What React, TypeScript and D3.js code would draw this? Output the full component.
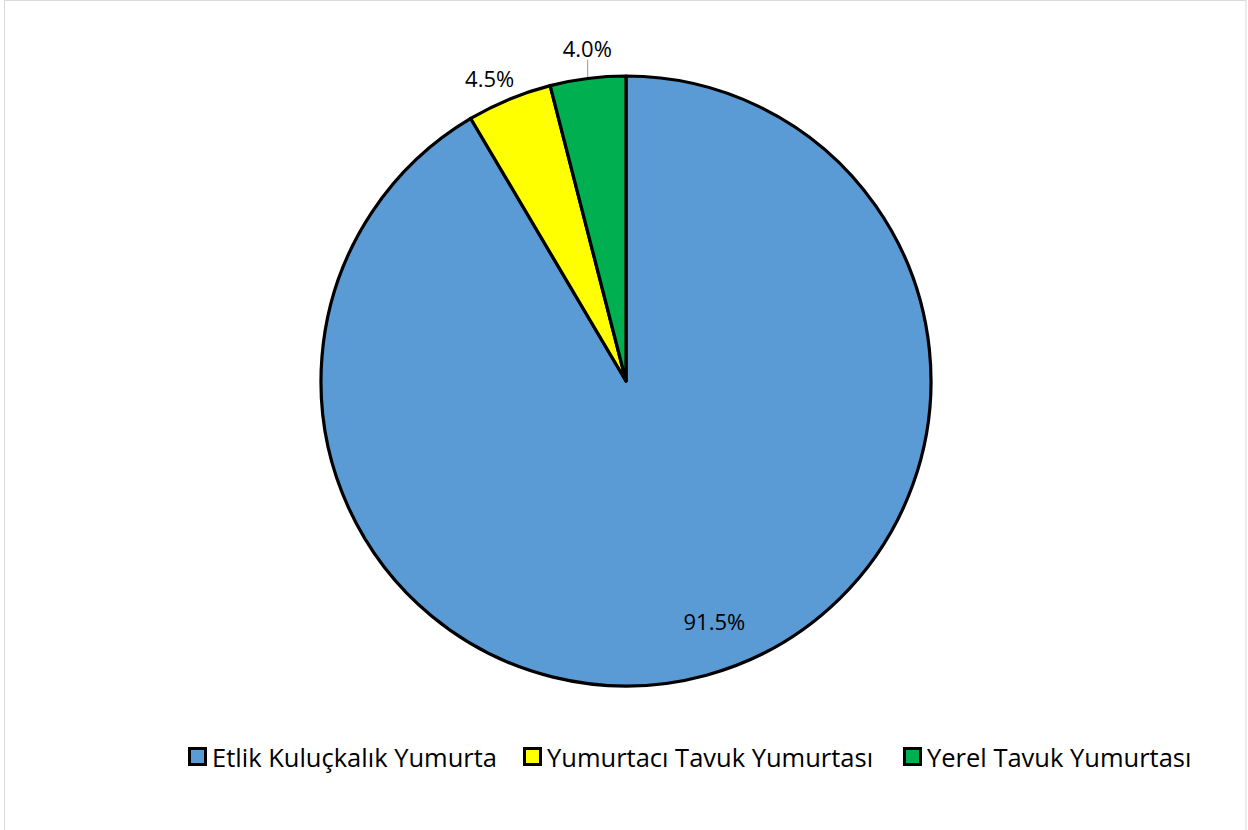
import React from "react";
import * as d3 from "d3";

const categories = ["Etlik Kuluçkalık Yumurta", "Yumurtacı Tavuk Yumurtası", "Yerel Tavuk Yumurtası"];
const values = [91.5, 4.5, 4.0];
const colors = ["#5b9bd5", "#ffff00", "#00b050"];

const W = 1248, H = 830;
const cx = 626, cy = 381, R = 305;
const FONT = "'Open Sans', sans-serif";

export default function App() {
  const pie = d3.pie<number>().sort(null).value((d) => d);
  const arcs = pie(values);
  const arcGen = d3.arc<d3.PieArcDatum<number>>().innerRadius(0).outerRadius(R);

  const polar = (angle: number, r: number) => [Math.sin(angle) * r, -Math.cos(angle) * r];

  const labelSpec = [
    { inside: true, rf: 0.84, shift: -0.085 },
    { inside: false, rf: 1.09, shift: -0.03 },
    { inside: false, rf: 1.1, shift: 0.01, leader: true },
  ];

  const legendX = [188, 523, 903];

  return (
    <svg width={W} height={H} style={{ position: "absolute", left: 0, top: 0 }} fontFamily={FONT}>
      <rect x={0} y={0} width={W} height={H} fill="#fff" />
      <rect x={4.5} y={0.5} width={1241.5} height={H + 5} fill="none" stroke="#d9d9d9" strokeWidth={1} />
      <g transform={`translate(${cx},${cy})`}>
        {arcs.map((a, i) => (
          <path key={i} d={arcGen(a) || ""} fill={colors[i]} stroke="#000" strokeWidth={3.2} strokeLinejoin="round" />
        ))}
        {arcs.map((a, i) => {
          const spec = labelSpec[i];
          const mid = (a.startAngle + a.endAngle) / 2 + spec.shift;
          const [x, y] = polar(mid, R * spec.rf);
          const txt = `${values[i].toFixed(1)}%`;
          let leader = null;
          if (spec.leader) {
            const m = (a.startAngle + a.endAngle) / 2;
            const [ax, ay] = polar(m, R + 1.5);
            leader = <line x1={ax} y1={ay} x2={ax} y2={y + 12} stroke="#a6a6a6" strokeWidth={1.2} />;
          }
          return (
            <g key={"l" + i}>
              {leader}
              <text x={x} y={y} textAnchor="middle" dominantBaseline="central" fontSize={22} fill="#000">
                {txt}
              </text>
            </g>
          );
        })}
      </g>
      <g>
        {categories.map((c, i) => (
          <g key={c}>
            <rect x={legendX[i] + 1.5} y={748.5} width={16} height={16} fill={colors[i]} stroke="#000" strokeWidth={3} />
            <text x={legendX[i] + 24} y={757} dominantBaseline="central" fontSize={25.5} fill="#000">
              {c}
            </text>
          </g>
        ))}
      </g>
    </svg>
  );
}
